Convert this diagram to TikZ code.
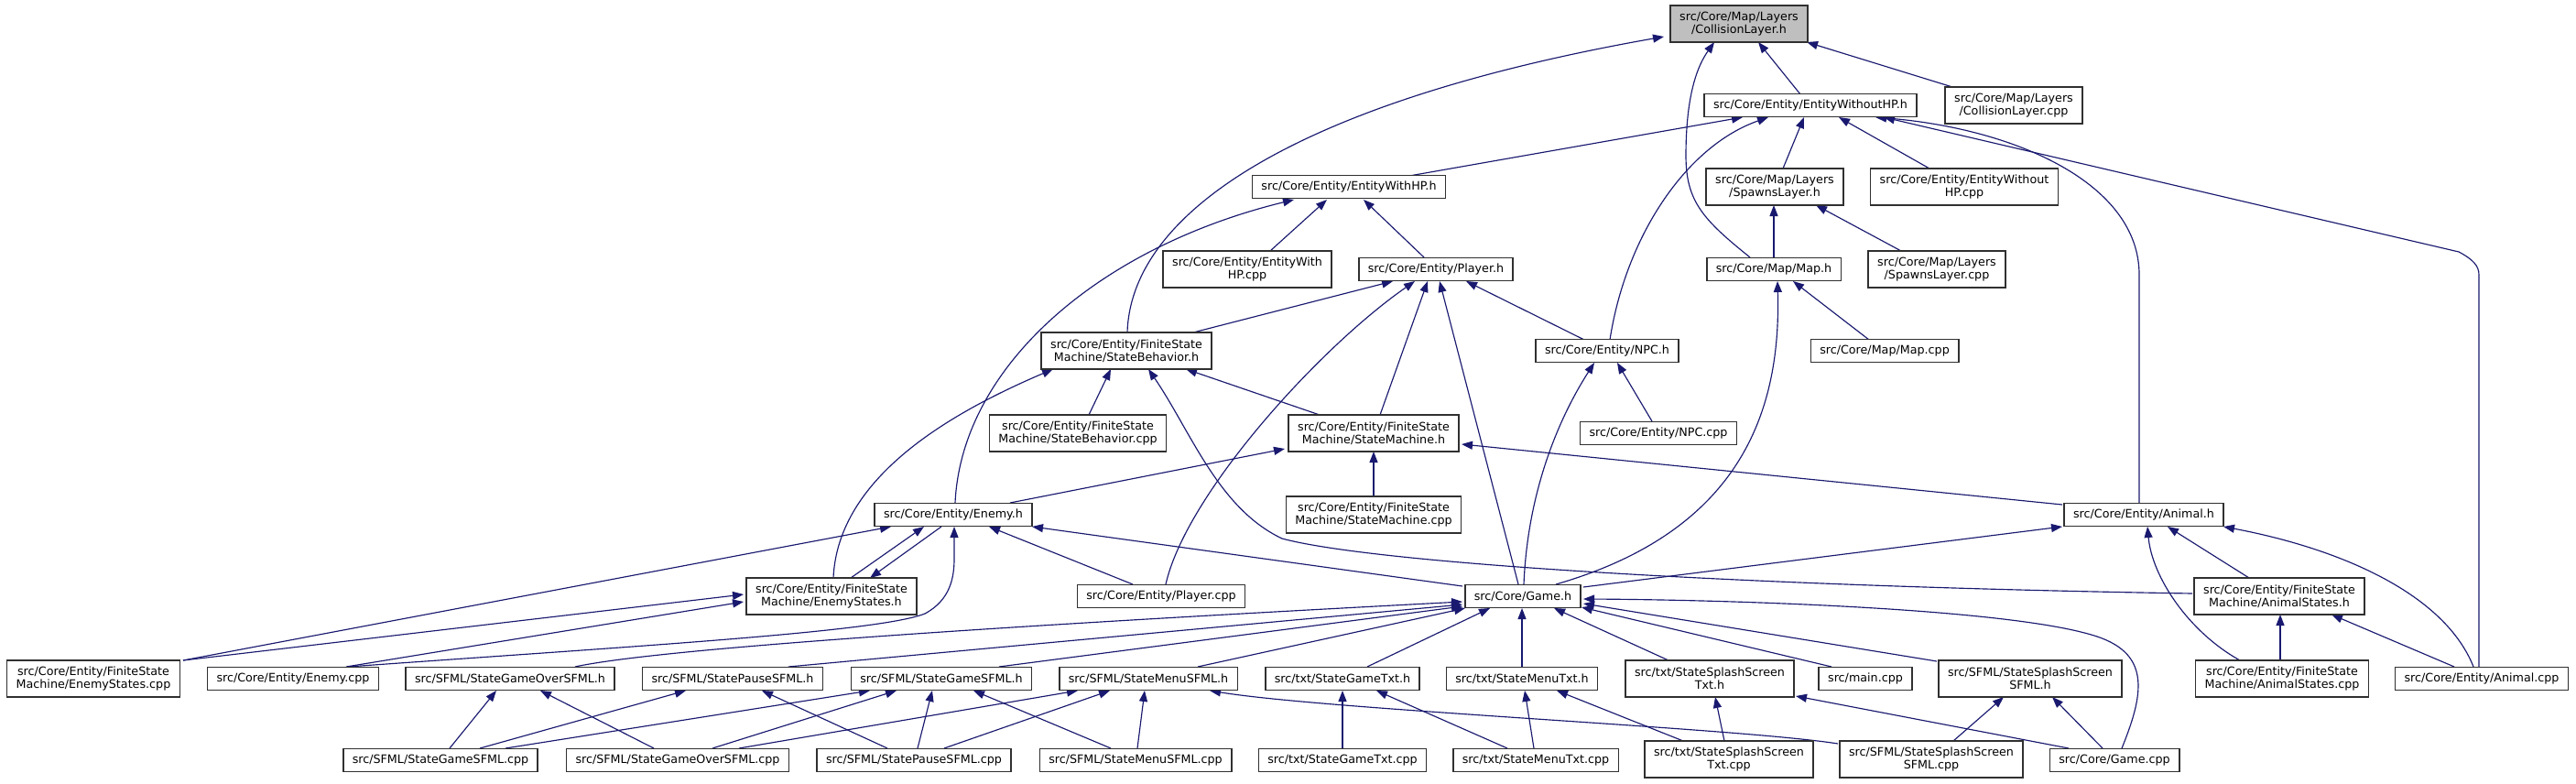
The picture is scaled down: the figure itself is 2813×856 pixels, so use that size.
\documentclass[tikz,border=0pt]{standalone}
\usepackage{fontspec}
\setmainfont{DejaVu Sans}
\usetikzlibrary{arrows.meta,calc}
\definecolor{edgeblue}{HTML}{191970}
\definecolor{hlgray}{HTML}{BFBFBF}
\definecolor{boxline}{HTML}{303030}
\pgfdeclarelayer{back}
\pgfdeclarelayer{bg}
\pgfsetlayers{back,bg,main}
\begin{document}
\begin{tikzpicture}[x=1pt,y=-1pt,
  box/.style={draw=boxline, line width=1.5pt, fill=white, inner xsep=10pt, inner ysep=1pt, minimum height=25pt, font=\fontsize{12.7pt}{14pt}\selectfont, align=center},
  box2/.style={box, minimum height=40pt},
  hl/.style={fill=hlgray},
  e/.style={draw=edgeblue, line width=1.15pt, -{Triangle[length=12pt,width=9pt]}},
]
\begin{pgfonlayer}{back}
\fill[white] (0,0) rectangle (2813,856);
\end{pgfonlayer}
\useasboundingbox (0,0) rectangle (2813,856);
% row 0
\node[box2,hl] (CL) at (1899,26) {src/Core/Map/Layers\\/CollisionLayer.h};
% row 1
\node[box] (EWoHP) at (1977,115) {src/Core/Entity/EntityWithoutHP.h};
\node[box2] (CLcpp) at (2199,115) {src/Core/Map/Layers\\/CollisionLayer.cpp};
% row 2
\node[box] (EWHP) at (1473,204) {src/Core/Entity/EntityWithHP.h};
\node[box2] (SpL) at (1938,204) {src/Core/Map/Layers\\/SpawnsLayer.h};
\node[box2] (EWoHPcpp) at (2145,204) {src/Core/Entity/EntityWithout\\HP.cpp};
% row 3
\node[box2] (EWHPcpp) at (1362,294) {src/Core/Entity/EntityWith\\HP.cpp};
\node[box] (Player) at (1568,294) {src/Core/Entity/Player.h};
\node[box] (Map) at (1937,294) {src/Core/Map/Map.h};
\node[box2] (SpLcpp) at (2115,294) {src/Core/Map/Layers\\/SpawnsLayer.cpp};
% row 4
\node[box2] (SB) at (1230,383) {src/Core/Entity/FiniteState\\Machine/StateBehavior.h};
\node[box] (NPC) at (1755,383) {src/Core/Entity/NPC.h};
\node[box] (MapCpp) at (2058,383) {src/Core/Map/Map.cpp};
% row 5
\node[box2] (SBcpp) at (1177,473) {src/Core/Entity/FiniteState\\Machine/StateBehavior.cpp};
\node[box2] (SM) at (1500,473) {src/Core/Entity/FiniteState\\Machine/StateMachine.h};
\node[box] (NPCcpp) at (1811,473) {src/Core/Entity/NPC.cpp};
% row 6
\node[box] (Enemy) at (1041,562) {src/Core/Entity/Enemy.h};
\node[box2] (SMcpp) at (1500,562) {src/Core/Entity/FiniteState\\Machine/StateMachine.cpp};
\node[box] (Animal) at (2341,562) {src/Core/Entity/Animal.h};
% row 7
\node[box2] (ES) at (908,651) {src/Core/Entity/FiniteState\\Machine/EnemyStates.h};
\node[box] (PlayerCpp) at (1268,651) {src/Core/Entity/Player.cpp};
\node[box] (Game) at (1663,651) {src/Core/Game.h};
\node[box2] (AS) at (2489,651) {src/Core/Entity/FiniteState\\Machine/AnimalStates.h};
% row 8
\node[box2] (EScpp) at (102,741) {src/Core/Entity/FiniteState\\Machine/EnemyStates.cpp};
\node[box] (EnemyCpp) at (320,741) {src/Core/Entity/Enemy.cpp};
\node[box] (SGO) at (557,741) {src/SFML/StateGameOverSFML.h};
\node[box] (SP) at (800,741) {src/SFML/StatePauseSFML.h};
\node[box] (SG) at (1028,741) {src/SFML/StateGameSFML.h};
\node[box] (SMenu) at (1254,741) {src/SFML/StateMenuSFML.h};
\node[box] (SGT) at (1466,741) {src/txt/StateGameTxt.h};
\node[box] (SMT) at (1662,741) {src/txt/StateMenuTxt.h};
\node[box2] (SSTh) at (1867,741) {src/txt/StateSplashScreen\\Txt.h};
\node[box] (Main) at (2037,741) {src/main.cpp};
\node[box2] (SSSh) at (2217,741) {src/SFML/StateSplashScreen\\SFML.h};
\node[box2] (ASCpp) at (2492,741) {src/Core/Entity/FiniteState\\Machine/AnimalStates.cpp};
\node[box] (AnimalCpp) at (2710,741) {src/Core/Entity/Animal.cpp};
% row 9
\node[box] (SGcpp) at (481,830) {src/SFML/StateGameSFML.cpp};
\node[box] (SGOcpp) at (740,830) {src/SFML/StateGameOverSFML.cpp};
\node[box] (SPcpp) at (998,830) {src/SFML/StatePauseSFML.cpp};
\node[box] (SMenucpp) at (1240,830) {src/SFML/StateMenuSFML.cpp};
\node[box] (SGTcpp) at (1466,830) {src/txt/StateGameTxt.cpp};
\node[box] (SMTcpp) at (1677,830) {src/txt/StateMenuTxt.cpp};
\node[box2] (SSTcpp) at (1888,829) {src/txt/StateSplashScreen\\Txt.cpp};
\node[box2] (SSScpp) at (2109,829) {src/SFML/StateSplashScreen\\SFML.cpp};
\node[box] (GameCpp) at (2309,830) {src/Core/Game.cpp};

\begin{pgfonlayer}{bg}
% into CollisionLayer.h
\draw[e] ($(SB.center)+(1,-20)$) .. controls (1235,230) and (1420,110) .. ($(CL.center)+(-82,14)$);
\draw[e] ($(Map.center)+(-26,-13)$) .. controls (1860,240) and (1841,220) .. (1841,170) .. controls (1841,100) and (1855,70) .. ($(CL.center)+(-27,20)$);
\draw[e] ($(EWoHP.center)+(-11,-12)$) -- ($(CL.center)+(21,20)$);
\draw[e] ($(CLcpp.center)+(-67,-20)$) -- ($(CL.center)+(74,20)$);
% into EntityWithoutHP.h
\draw[e] ($(EWHP.center)+(66,-12)$) -- ($(EWoHP.center)+(-74,13)$);
\draw[e] ($(NPC.center)+(3,-12)$) .. controls (1775,260) and (1840,160) .. ($(EWoHP.center)+(-46,13)$);
\draw[e] ($(SpL.center)+(9,-20)$) -- ($(EWoHP.center)+(-7,13)$);
\draw[e] ($(EWoHPcpp.center)+(-38,-20)$) -- ($(EWoHP.center)+(31,13)$);
\draw[e] ($(Animal.center)+(-5,-13)$) -- (2336,300) .. controls (2336,200) and (2200,140) .. ($(EWoHP.center)+(71,13)$);
\draw[e] ($(AnimalCpp.center)+(-3,-13)$) -- (2707,300) .. controls (2707,290) and (2700,283) .. (2685,275) -- ($(EWoHP.center)+(80,13)$);
% into EntityWithHP.h
\draw[e] ($(Enemy.center)+(2,-13)$) .. controls (1050,400) and (1200,270) .. ($(EWHP.center)+(-60,14)$);
\draw[e] ($(EWHPcpp.center)+(25,-20)$) -- ($(EWHP.center)+(-24,14)$);
\draw[e] ($(Player.center)+(-13,-13)$) -- ($(EWHP.center)+(16,14)$);
% into SpawnsLayer.h
\draw[e] ($(Map.center)+(0,-13)$) -- ($(SpL.center)+(-1,20)$);
\draw[e] ($(SpLcpp.center)+(-39,-20)$) -- ($(SpL.center)+(45,20)$);
% into Player.h
\draw[e] ($(SB.center)+(73,-20)$) -- ($(Player.center)+(-47,13)$);
\draw[e] ($(PlayerCpp.center)+(5,-13)$) .. controls (1295,540) and (1440,380) .. ($(Player.center)+(-23,13)$);
\draw[e] ($(SM.center)+(7,-20)$) -- ($(Player.center)+(-9,13)$);
\draw[e] ($(Game.center)+(-5,-13)$) -- ($(Player.center)+(4,13)$);
\draw[e] ($(NPC.center)+(-25,-12)$) -- ($(Player.center)+(33,13)$);
% into Map.h
\draw[e] ($(Game.center)+(36,-13)$) .. controls (1900,580) and (1945,450) .. ($(Map.center)+(4,13)$);
\draw[e] ($(MapCpp.center)+(-17,-12)$) -- ($(Map.center)+(21,13)$);
% into StateBehavior.h
\draw[e] ($(ES.center)+(2,-20)$) .. controls (915,520) and (1040,450) .. ($(SB.center)+(-80,20)$);
\draw[e] ($(SBcpp.center)+(12,-20)$) -- ($(SB.center)+(-17,20)$);
\draw[e] ($(SM.center)+(-59,-20)$) -- ($(SB.center)+(65,20)$);
\draw[e] ($(AS.center)+(-95,-3)$) .. controls (1900,640) and (1500,615) .. (1400,588) .. controls (1330,555) and (1300,470) .. ($(SB.center)+(24,20)$);
% into NPC.h
\draw[e] ($(Game.center)+(1,-13)$) .. controls (1668,540) and (1700,460) .. ($(NPC.center)+(-14,13)$);
\draw[e] ($(NPCcpp.center)+(-7,-13)$) -- ($(NPC.center)+(11,13)$);
% into StateMachine.h
\draw[e] ($(Enemy.center)+(62,-13)$) -- ($(SM.center)+(-97,17)$);
\draw[e] ($(SMcpp.center)+(0,-20)$) -- ($(SM.center)+(0,20)$);
\draw[e] ($(Animal.center)+(-89,-11)$) -- ($(SM.center)+(96,12)$);
% into Enemy.h
\draw[e] ($(EScpp.center)+(98,-20)$) -- ($(Enemy.center)+(-68,13)$);
\draw[e] ($(ES.center)+(21,-20)$) -- ($(Enemy.center)+(-32,13)$);
\draw[e] ($(EnemyCpp.center)+(60,-13)$) .. controls (700,705) and (960,690) .. (1010,670) .. controls (1038,655) and (1042,630) .. (1042,610) -- ($(Enemy.center)+(1,13)$);
\draw[e] ($(PlayerCpp.center)+(-31,-13)$) -- ($(Enemy.center)+(39,13)$);
\draw[e] ($(Game.center)+(-66,-11)$) -- ($(Enemy.center)+(86,13)$);
% into EnemyStates.h
\draw[e] ($(Enemy.center)+(-13,13)$) -- ($(ES.center)+(42,-20)$);
\draw[e] ($(EScpp.center)+(98,-20)$) -- ($(ES.center)+(-96,-2)$);
\draw[e] ($(EnemyCpp.center)+(58,-13)$) -- ($(ES.center)+(-96,6)$);
% into Animal.h
\draw[e] ($(Game.center)+(66,-10)$) -- ($(Animal.center)+(-89,13)$);
\draw[e] ($(AS.center)+(-33,-20)$) -- ($(Animal.center)+(26,13)$);
\draw[e] ($(ASCpp.center)+(-46,-20)$) .. controls (2390,690) and (2350,630) .. ($(Animal.center)+(4,13)$);
\draw[e] ($(AnimalCpp.center)+(-9,-13)$) .. controls (2670,650) and (2560,600) .. ($(Animal.center)+(87,13)$);
% into AnimalStates.h
\draw[e] ($(ASCpp.center)+(-2,-20)$) -- ($(AS.center)+(1,20)$);
\draw[e] ($(AnimalCpp.center)+(-30,-13)$) -- ($(AS.center)+(57,20)$);
% into Game.h
\draw[e] ($(SGO.center)+(71,-13)$) .. controls (720,708) and (1100,683) .. ($(Game.center)+(-66,6)$);
\draw[e] ($(SP.center)+(61,-13)$) -- ($(Game.center)+(-66,9)$);
\draw[e] ($(SG.center)+(63,-13)$) -- ($(Game.center)+(-66,11)$);
\draw[e] ($(SMenu.center)+(54,-13)$) -- ($(Game.center)+(-63,13)$);
\draw[e] ($(SGT.center)+(27,-13)$) -- ($(Game.center)+(-36,13)$);
\draw[e] ($(SMT.center)+(0,-13)$) -- ($(Game.center)+(-1,13)$);
\draw[e] ($(SSTh.center)+(-45,-20)$) -- ($(Game.center)+(34,13)$);
\draw[e] ($(Main.center)+(-37,-13)$) -- ($(Game.center)+(64,12)$);
\draw[e] ($(SSSh.center)+(-102,-19)$) -- ($(Game.center)+(66,8)$);
\draw[e] ($(GameCpp.center)+(8,-13)$) .. controls (2340,760) and (2350,715) .. (2290,695) .. controls (2200,665) and (1900,655) .. ($(Game.center)+(66,3)$);
% row 9 -> row 8
\draw[e] ($(SGcpp.center)+(10,-13)$) -- ($(SGO.center)+(-15,13)$);
\draw[e] ($(SGOcpp.center)+(-26,-13)$) -- ($(SGO.center)+(33,13)$);
\draw[e] ($(SGcpp.center)+(43,-13)$) -- ($(SP.center)+(-51,13)$);
\draw[e] ($(SPcpp.center)+(-29,-13)$) -- ($(SP.center)+(32,13)$);
\draw[e] ($(SGcpp.center)+(71,-13)$) -- ($(SG.center)+(-78,13)$);
\draw[e] ($(SGOcpp.center)+(38,-13)$) -- ($(SG.center)+(-49,13)$);
\draw[e] ($(SPcpp.center)+(4,-13)$) -- ($(SG.center)+(-10,13)$);
\draw[e] ($(SMenucpp.center)+(-27,-13)$) -- ($(SG.center)+(35,13)$);
\draw[e] ($(SGOcpp.center)+(67,-13)$) -- ($(SMenu.center)+(-77,13)$);
\draw[e] ($(SPcpp.center)+(33,-13)$) -- ($(SMenu.center)+(-42,13)$);
\draw[e] ($(SMenucpp.center)+(2,-13)$) -- ($(SMenu.center)+(-4,13)$);
\draw[e] ($(SSScpp.center)+(-102,-17)$) .. controls (1900,795) and (1450,775) .. ($(SMenu.center)+(67,13)$);
\draw[e] ($(SGTcpp.center)+(0,-13)$) -- ($(SGT.center)+(0,13)$);
\draw[e] ($(SMTcpp.center)+(-31,-13)$) -- ($(SGT.center)+(37,13)$);
\draw[e] ($(SMTcpp.center)+(-2,-13)$) -- ($(SMT.center)+(3,13)$);
\draw[e] ($(SSTcpp.center)+(-50,-20)$) -- ($(SMT.center)+(38,13)$);
\draw[e] ($(SSTcpp.center)+(-5,-20)$) -- ($(SSTh.center)+(6,20)$);
\draw[e] ($(GameCpp.center)+(-50,-13)$) -- ($(SSTh.center)+(94,19)$);
\draw[e] ($(SSScpp.center)+(24,-20)$) -- ($(SSSh.center)+(-29,20)$);
\draw[e] ($(GameCpp.center)+(-13,-13)$) -- ($(SSSh.center)+(24,20)$);
\end{pgfonlayer}
\end{tikzpicture}
\end{document}
